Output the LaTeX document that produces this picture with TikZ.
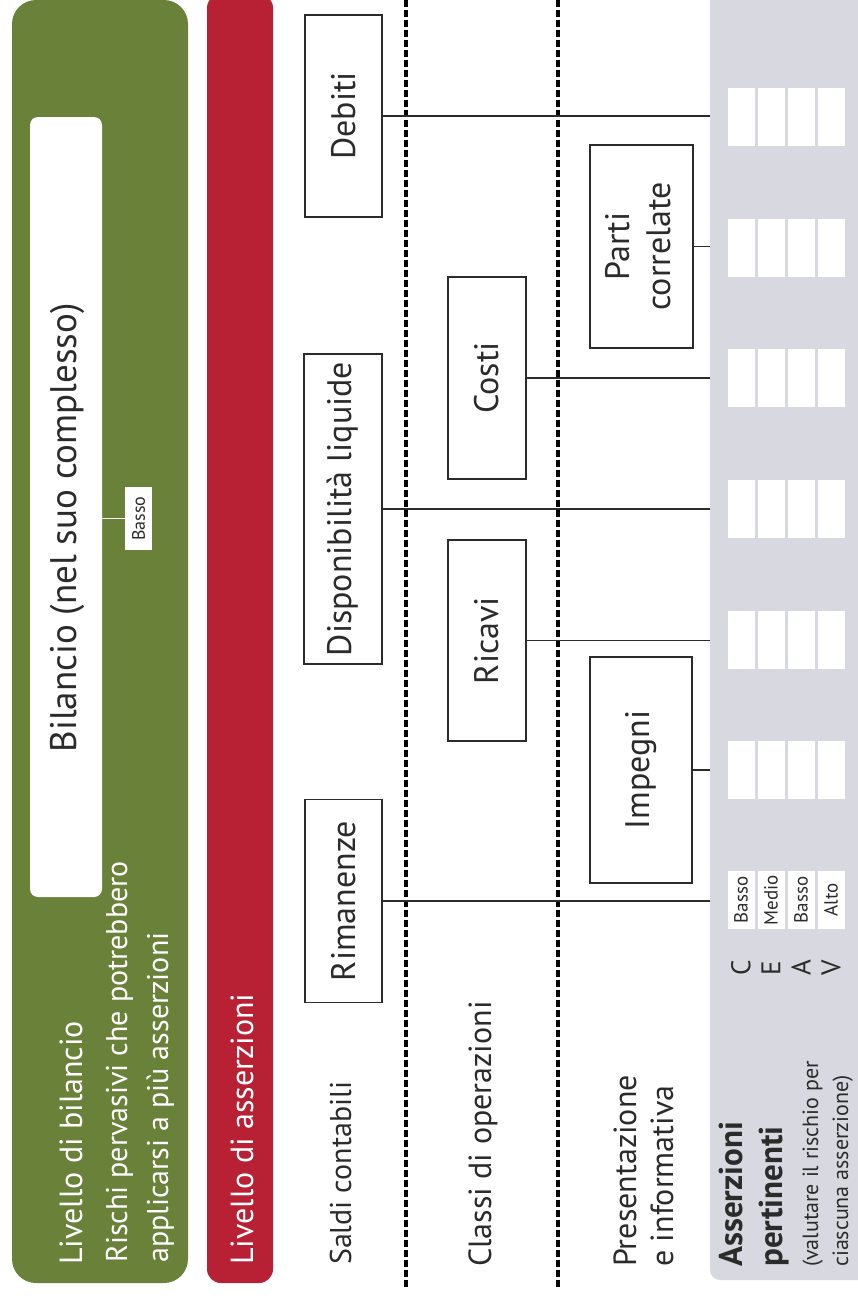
\documentclass[tikz,border=0pt]{standalone}
\usepackage{fontspec}
\setmainfont{PT Sans}
\definecolor{bgreen}{HTML}{6A8139}
\definecolor{bred}{HTML}{B82034}
\definecolor{pgrey}{HTML}{D8D9E0}
\definecolor{ink}{HTML}{2B2B2B}
\begin{document}
\begin{tikzpicture}[x=1pt,y=-1pt,
  itembox/.style={draw=ink, line width=1.4pt, fill=white, inner sep=0pt, font=\fontsize{34}{41}\selectfont, text=ink},
  lbl/.style={inner sep=0pt, rotate=90, anchor=base west, font=\fontsize{30}{36}\selectfont, text=ink},
  biglbl/.style={lbl, font=\fontsize{32}{36}\selectfont},
  wlbl/.style={lbl, text=white},
  link/.style={draw=ink, line width=1.3pt},
  sepline/.style={draw=black, line width=3.2pt, dash pattern=on 7pt off 3pt},
  wcell/.style={fill=white, minimum width=27pt, minimum height=58pt, inner sep=0pt, font=\fontsize{19}{22}\selectfont, text=ink},
  letr/.style={rotate=90, inner sep=0pt, font=\fontsize{27}{28}\selectfont, text=ink}
]
\path[use as bounding box] (0,0) rectangle (858,1299);
\fill[white] (0,0) rectangle (858,1299);
% bands
\fill[bgreen, rounded corners=24pt] (12,0) rectangle (188,1283);
\fill[bred, rounded corners=14pt] (207,-6) rectangle (273,1283);
\node[fill=pgrey, rounded corners=10pt, minimum width=160pt, minimum height=1295pt, inner sep=0pt] (panel) at (790,632.5) {};
% bilancio level
\node[fill=white, rounded corners=8pt, minimum width=72pt, minimum height=780pt, inner sep=0pt] (bil) at (66,507) {};
\node[rotate=90, inner sep=0pt, font=\fontsize{37}{40}\selectfont, text=ink] (biltxt) at (67,528) {Bilancio (nel suo complesso)};
\node[fill=white, minimum width=27pt, minimum height=63pt, inner sep=0pt, font=\fontsize{18}{20}\selectfont, text=ink] (bas) at (138.5,518.5) {\rotatebox{90}{Basso}};
\draw[white, line width=1.5pt] (bil.east |- bas.west) -- (bas.west);
% labels
\node[biglbl, text=white] (t1) at (82,1265) {Livello di bilancio};
\node[wlbl] (t2) at (127,1263) {Rischi pervasivi che potrebbero};
\node[wlbl] (t3) at (168,1263) {applicarsi a più asserzioni};
\node[biglbl, text=white] (t4) at (253,1265) {Livello di asserzioni};
\node[lbl] (t5) at (351,1265) {Saldi contabili};
\node[biglbl] (t6) at (491,1267) {Classi di operazioni};
\node[biglbl] (t7) at (636,1267) {Presentazione};
\node[biglbl] (t8) at (673,1267) {e informativa};
% separators
\draw[sepline] (406,0) -- (406,1288);
\draw[sepline] (558,0) -- (558,1288);
% cells
\foreach \g/\yy in {1/117,2/248,3/378,4/509,5/640,6/770} {
  \foreach \k/\xx in {1/741,2/771,3/801,4/831} {
    \node[wcell] (c\g\k) at (\xx,\yy) {};
  }
}
\node[wcell] (c71) at (741,900) {\rotatebox{90}{Basso}};
\node[wcell] (c72) at (771,900) {\rotatebox{90}{Medio}};
\node[wcell] (c73) at (801,900) {\rotatebox{90}{Basso}};
\node[wcell] (c74) at (831,900) {\rotatebox{90}{Alto}};
\node[letr] (lc) at (741,968) {C};
\node[letr] (le) at (771,968) {E};
\node[letr] (la) at (801,968) {A};
\node[letr] (lv) at (831,968) {V};
\node[lbl, font=\bfseries\fontsize{33}{36}\selectfont] (a1) at (742,1267) {Asserzioni};
\node[lbl, font=\bfseries\fontsize{33}{36}\selectfont] (a2) at (782,1267) {pertinenti};
\node[lbl, font=\fontsize{22}{26}\selectfont] (a3) at (818,1267) {(valutare il rischio per};
\node[lbl, font=\fontsize{22}{26}\selectfont] (a4) at (848,1267) {ciascuna asserzione)};
% boxes
\node[itembox, minimum width=77pt, minimum height=202pt] (deb) at (343.5,116) {\rotatebox{90}{Debiti}};
\node[itembox, minimum width=78pt, minimum height=310pt] (disp) at (343,509) {\rotatebox{90}{Disponibilità liquide}};
\node[itembox, minimum width=77pt, minimum height=203pt] (rim) at (343.5,901) {\rotatebox{90}{Rimanenze}};
\node[itembox, minimum width=78pt, minimum height=202pt] (cost) at (487,378) {\rotatebox{90}{Costi}};
\node[itembox, minimum width=78pt, minimum height=201pt] (ric) at (487,640.5) {\rotatebox{90}{Ricavi}};
\node[itembox, minimum width=103pt, minimum height=203pt] (parti) at (641.5,246.5) {\rotatebox{90}{\begin{tabular}{@{}c@{}}Parti\\correlate\end{tabular}}};
\node[itembox, minimum width=102pt, minimum height=226pt] (imp) at (641,770) {\rotatebox{90}{Impegni}};
% connectors
\foreach \n in {deb,disp,rim,cost,ric,parti,imp} {
  \draw[link] (\n.east) -- (\n.east -| panel.west);
}
\end{tikzpicture}
\end{document}
